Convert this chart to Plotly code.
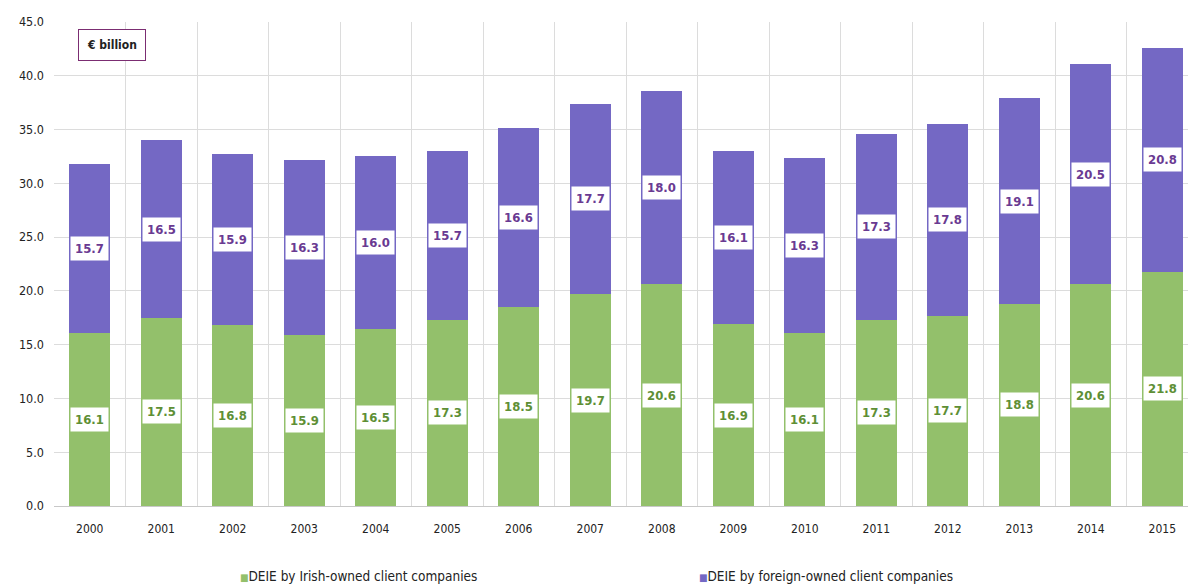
import plotly.graph_objects as go

years = ["2000", "2001", "2002", "2003", "2004", "2005", "2006", "2007",
         "2008", "2009", "2010", "2011", "2012", "2013", "2014", "2015"]
irish_owned = [16.1, 17.5, 16.8, 15.9, 16.5, 17.3, 18.5, 19.7,
               20.6, 16.9, 16.1, 17.3, 17.7, 18.8, 20.6, 21.8]
foreign_owned = [15.7, 16.5, 15.9, 16.3, 16.0, 15.7, 16.6, 17.7,
                 18.0, 16.1, 16.3, 17.3, 17.8, 19.1, 20.5, 20.8]
y_ticks = [0, 5, 10, 15, 20, 25, 30, 35, 40, 45]
series_names = ["DEIE by Irish-owned client companies",
                "DEIE by foreign-owned client companies"]

GREEN = "#93c06b"
PURPLE = "#7468c4"
GREEN_TEXT = "#5e8f35"
PURPLE_TEXT = "#6a3a92"
FONT = "DejaVu Sans Condensed, DejaVu Sans, sans-serif"

W, H = 1188, 585
L, T, B = 54, 22, 79


def paper_x(px):
    """Convert a page x position (pixels) to paper coordinates."""
    return (px - L) / (W - L)


def paper_y(py):
    """Convert a page y position (pixels from top) to paper coordinates."""
    return (H - B - py) / (H - B - T)


x = list(range(len(years)))

fig = go.Figure()
fig.add_trace(go.Bar(
    x=x, y=irish_owned, name=series_names[0],
    marker=dict(color=GREEN, line=dict(width=0)), width=0.57,
))
fig.add_trace(go.Bar(
    x=x, y=foreign_owned, name=series_names[1],
    marker=dict(color=PURPLE, line=dict(width=0)), width=0.57,
))

# value labels in white boxes at the middle of each segment
annotations = []
for i, (a, b) in enumerate(zip(irish_owned, foreign_owned)):
    annotations.append(dict(
        x=i, y=a / 2, xref="x", yref="y", text=f"<b>{a:.1f}</b>",
        showarrow=False, bgcolor="white", borderpad=4,
        font=dict(family=FONT, size=13, color=GREEN_TEXT),
    ))
    annotations.append(dict(
        x=i, y=a + b / 2, xref="x", yref="y", text=f"<b>{b:.1f}</b>",
        showarrow=False, bgcolor="white", borderpad=4,
        font=dict(family=FONT, size=13, color=PURPLE_TEXT),
    ))

# unit box in the top-left corner of the plot
annotations.append(dict(
    x=paper_x(78), y=paper_y(29),
    xref="paper", yref="paper", xanchor="left", yanchor="top",
    text="<b>€ billion</b>", showarrow=False, bgcolor="white",
    bordercolor="#7b2d72", borderwidth=1, borderpad=8,
    font=dict(family=FONT, size=12, color="#222222"),
))

# legend row below the axis: small coloured square followed by the series name
for name, color, px in zip(series_names, [GREEN, PURPLE], [238, 697]):
    annotations.append(dict(
        x=paper_x(px), y=paper_y(576), xref="paper", yref="paper",
        xanchor="left", yanchor="middle", showarrow=False,
        text=f'<span style="color:{color};font-size:10px">■</span>{name}',
        font=dict(family=FONT, size=13.5, color="#222222"),
    ))

fig.update_layout(
    width=W, height=H,
    margin=dict(l=L, r=0, t=T, b=B, autoexpand=False),
    paper_bgcolor="white", plot_bgcolor="white",
    barmode="stack", showlegend=False,
    font=dict(family=FONT, size=12, color="#222222"),
    xaxis=dict(
        range=[-0.5, 15.36],
        tickmode="array", tickvals=x, ticktext=years,
        showgrid=False, zeroline=False,
        showline=True, linecolor="#c8c8c8",
        ticks="", ticklabelstandoff=12,
        tickfont=dict(size=12, color="#222222"),
        minor=dict(tick0=0.5, dtick=1, showgrid=True, gridcolor="#dcdcdc",
                   gridwidth=1, ticks=""),
    ),
    yaxis=dict(
        range=[0, 45], tickvals=y_ticks, tickformat=".1f",
        showgrid=True, gridcolor="#dcdcdc", gridwidth=1,
        zeroline=False, ticks="", ticklabelstandoff=9,
        tickfont=dict(size=12.5, color="#222222"),
    ),
    annotations=annotations,
)

fig.write_html("out.html")
